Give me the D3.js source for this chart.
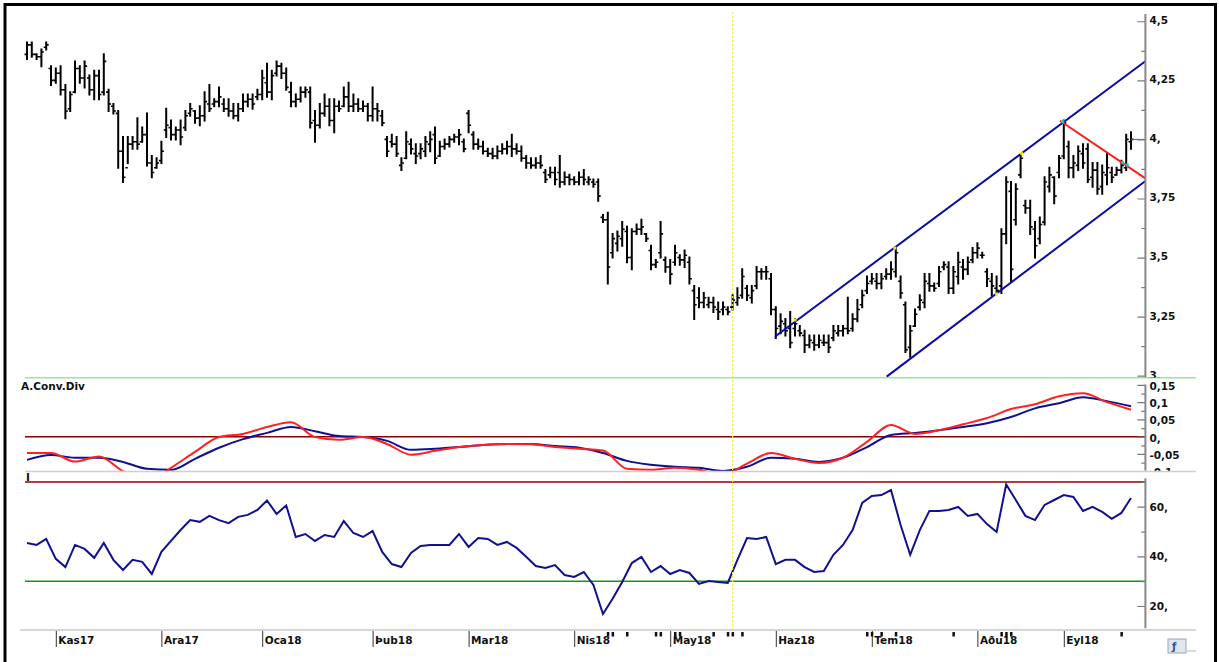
<!DOCTYPE html>
<html>
<head>
<meta charset="utf-8">
<script src="https://cdn.jsdelivr.net/npm/d3@7"></script>
<style>
  body { margin: 0; background: #fff; }
  svg { display: block; font-family: "DejaVu Sans", Verdana, sans-serif; }
  .lbl { font-family: "DejaVu Sans", Verdana, sans-serif; font-size: 10.5px; font-weight: bold; fill: #111; }
</style>
</head>
<body>
<svg id="chart" width="1219" height="662"></svg>
<script>
// daily OHLC, one entry per trading day (Oct 2017 - Sep 2018)
const highs = [4.41,4.41,4.36,4.38,4.41,4.31,4.30,4.31,4.23,4.20, 4.33,4.31,4.33,4.27,4.29,4.29,4.36,4.21,4.15,4.12,
  4.01,4.01,4.01,4.09,4.05,4.11,3.93,3.92,3.99,4.13, 4.08,4.05,4.08,4.12,4.15,4.12,4.14,4.20,4.23,4.17,
  4.22,4.17,4.17,4.15,4.15,4.19,4.19,4.19,4.21,4.29, 4.32,4.29,4.33,4.32,4.30,4.24,4.19,4.22,4.22,4.22,
  4.12,4.15,4.19,4.17,4.17,4.16,4.22,4.24,4.19,4.17, 4.16,4.15,4.22,4.15,4.12,4.01,4.02,4.01,3.92,4.03,
  4.00,3.98,3.98,4.01,4.03,4.05,3.99,4.00,4.01,4.02, 4.04,4.00,4.12,4.03,4.00,3.99,3.96,3.96,3.97,3.98,
  3.99,4.02,3.98,3.97,3.93,3.92,3.92,3.93,3.87,3.88, 3.88,3.93,3.86,3.85,3.84,3.86,3.87,3.84,3.83,3.83,
  3.68,3.69,3.60,3.61,3.65,3.63,3.62,3.64,3.66,3.60, 3.55,3.49,3.65,3.50,3.49,3.55,3.51,3.53,3.50,3.38,
  3.37,3.35,3.33,3.33,3.31,3.31,3.29,3.34,3.37,3.45, 3.38,3.38,3.46,3.45,3.46,3.43,3.29,3.26,3.24,3.27,
  3.24,3.21,3.19,3.17,3.17,3.17,3.17,3.17,3.21,3.21, 3.21,3.33,3.26,3.32,3.36,3.42,3.43,3.43,3.43,3.45,
  3.48,3.54,3.42,3.31,3.21,3.28,3.34,3.43,3.43,3.39, 3.46,3.48,3.48,3.46,3.52,3.49,3.50,3.54,3.56,3.52,
  3.45,3.43,3.42,3.62,3.84,3.82,3.81,3.93,3.74,3.74, 3.65,3.67,3.84,3.88,3.84,3.93,4.08,3.99,3.93,3.97,
  3.98,3.98,3.90,3.90,3.89,3.94,3.88,3.88,3.91,4.02, 4.03]
const lows = [4.34,4.35,4.34,4.31,4.38,4.23,4.24,4.19,4.09,4.12, 4.20,4.24,4.22,4.19,4.17,4.17,4.19,4.12,4.11,3.88,
  3.82,3.90,3.96,3.96,3.99,3.89,3.84,3.88,3.90,4.01, 4.00,4.00,3.98,4.04,4.10,4.07,4.06,4.08,4.12,4.14,
  4.14,4.12,4.10,4.09,4.08,4.12,4.14,4.13,4.17,4.17, 4.18,4.17,4.27,4.26,4.21,4.14,4.14,4.16,4.18,4.05,
  3.99,4.05,4.10,4.06,4.03,4.12,4.14,4.12,4.12,4.12, 4.12,4.08,4.08,4.08,4.06,3.93,3.97,3.93,3.87,3.92,
  3.94,3.90,3.92,3.93,3.95,3.90,3.93,3.96,3.97,3.99, 3.98,3.95,4.03,3.96,3.96,3.94,3.93,3.92,3.92,3.94,
  3.94,3.93,3.94,3.91,3.88,3.88,3.88,3.88,3.82,3.84, 3.81,3.80,3.81,3.81,3.81,3.81,3.81,3.81,3.80,3.74,
  3.65,3.39,3.50,3.53,3.55,3.48,3.45,3.60,3.60,3.57, 3.45,3.46,3.50,3.44,3.39,3.47,3.47,3.46,3.39,3.24,
  3.29,3.29,3.29,3.27,3.24,3.26,3.26,3.28,3.30,3.33, 3.32,3.31,3.37,3.41,3.41,3.26,3.16,3.18,3.17,3.12,
  3.17,3.17,3.10,3.12,3.11,3.12,3.13,3.10,3.15,3.17, 3.17,3.18,3.19,3.23,3.29,3.35,3.39,3.37,3.37,3.41,
  3.41,3.42,3.33,3.10,3.08,3.21,3.28,3.29,3.36,3.36, 3.38,3.45,3.35,3.35,3.39,3.41,3.43,3.48,3.50,3.50,
  3.38,3.34,3.35,3.35,3.56,3.40,3.64,3.84,3.69,3.60, 3.50,3.56,3.64,3.78,3.73,3.84,3.92,3.84,3.84,3.87,
  3.88,3.82,3.80,3.77,3.77,3.81,3.82,3.85,3.86,3.87, 3.96]
const opens = [4.36,4.40,4.36,4.35,4.39,4.30,4.25,4.28,4.21,4.13, 4.20,4.30,4.26,4.26,4.21,4.27,4.20,4.20,4.14,4.11,
  3.95,3.88,3.98,3.99,3.99,4.02,3.90,3.88,3.91,4.04, 4.05,4.02,4.04,4.05,4.11,4.12,4.09,4.10,4.15,4.15,
  4.16,4.15,4.13,4.12,4.10,4.13,4.16,4.17,4.18,4.19, 4.24,4.20,4.28,4.31,4.28,4.20,4.16,4.17,4.20,4.20,
  4.08,4.06,4.11,4.14,4.08,4.14,4.14,4.18,4.14,4.15, 4.13,4.14,4.10,4.13,4.10,4.00,3.99,3.98,3.89,3.92,
  3.98,3.94,3.94,3.95,3.98,4.02,3.93,3.97,3.98,4.00, 4.01,3.99,4.11,4.02,3.98,3.97,3.95,3.94,3.93,3.95,
  3.96,3.97,3.96,3.95,3.92,3.90,3.89,3.90,3.86,3.85, 3.86,3.86,3.82,3.84,3.83,3.82,3.84,3.82,3.82,3.82,
  3.67,3.66,3.52,3.56,3.58,3.61,3.50,3.61,3.62,3.60, 3.53,3.47,3.52,3.49,3.46,3.48,3.50,3.49,3.48,3.36,
  3.33,3.31,3.30,3.31,3.28,3.28,3.28,3.29,3.31,3.34, 3.37,3.33,3.38,3.44,3.44,3.41,3.28,3.21,3.22,3.20,
  3.20,3.19,3.17,3.13,3.14,3.13,3.14,3.14,3.16,3.18, 3.19,3.20,3.20,3.24,3.30,3.36,3.40,3.40,3.39,3.42,
  3.43,3.44,3.40,3.30,3.12,3.21,3.29,3.31,3.39,3.38, 3.39,3.46,3.46,3.37,3.42,3.46,3.45,3.49,3.52,3.51,
  3.44,3.40,3.37,3.38,3.60,3.78,3.66,3.85,3.72,3.71, 3.62,3.58,3.65,3.80,3.84,3.86,3.93,3.97,3.88,3.89,
  3.94,3.96,3.84,3.87,3.80,3.85,3.86,3.85,3.87,3.88, 3.99]
const closes = [4.40,4.36,4.35,4.37,4.40,4.25,4.28,4.21,4.12,4.19, 4.30,4.26,4.31,4.21,4.27,4.19,4.33,4.15,4.12,3.95,
  3.84,3.98,3.99,3.98,4.02,3.90,3.86,3.90,3.95,4.06, 4.02,4.04,4.01,4.10,4.13,4.09,4.10,4.16,4.13,4.16,
  4.18,4.13,4.12,4.10,4.13,4.16,4.17,4.15,4.19,4.26, 4.20,4.27,4.31,4.28,4.22,4.16,4.17,4.20,4.21,4.07,
  4.06,4.11,4.14,4.08,4.14,4.13,4.18,4.14,4.15,4.13, 4.14,4.10,4.13,4.12,4.07,3.95,3.98,3.94,3.90,3.99,
  3.96,3.93,3.96,3.99,4.00,3.92,3.97,3.98,4.00,4.01, 4.02,3.96,4.06,3.98,3.97,3.95,3.94,3.93,3.95,3.96,
  3.97,3.96,3.95,3.92,3.90,3.89,3.90,3.89,3.83,3.86, 3.83,3.82,3.84,3.83,3.82,3.84,3.83,3.83,3.81,3.76,
  3.66,3.46,3.58,3.59,3.62,3.50,3.61,3.62,3.63,3.58, 3.47,3.48,3.60,3.46,3.43,3.52,3.49,3.51,3.41,3.30,
  3.31,3.33,3.31,3.29,3.27,3.29,3.27,3.32,3.33,3.42, 3.34,3.36,3.44,3.44,3.44,3.28,3.20,3.23,3.19,3.14,
  3.22,3.18,3.13,3.15,3.13,3.15,3.14,3.12,3.19,3.19, 3.20,3.19,3.24,3.28,3.34,3.39,3.41,3.39,3.41,3.43,
  3.45,3.52,3.35,3.11,3.19,3.26,3.32,3.40,3.38,3.37, 3.44,3.47,3.37,3.44,3.48,3.45,3.48,3.52,3.54,3.51,
  3.41,3.38,3.36,3.60,3.82,3.45,3.79,3.92,3.71,3.63, 3.55,3.64,3.82,3.85,3.76,3.92,4.07,3.88,3.90,3.95,
  3.90,3.83,3.87,3.79,3.86,3.88,3.84,3.87,3.89,4.00, 4.00]

// MACD panel, read every 5 bars
const macdStep = 5
const macdLine = [-0.047,-0.047,-0.072,-0.057,-0.10,-0.13,-0.09,-0.044,-0.001,0.008,
  0.028,0.042,-0.001,-0.009,-0.001,-0.021,-0.052,-0.041,-0.030,-0.024,
  -0.021,-0.022,-0.030,-0.035,-0.040,-0.093,-0.096,-0.090,-0.096,-0.11,
  -0.078,-0.047,-0.064,-0.076,-0.061,-0.015,0.034,0.008,0.019,0.036,
  0.054,0.080,0.094,0.117,0.126,0.100,0.078]
const signalLine = [-0.067,-0.053,-0.061,-0.061,-0.073,-0.093,-0.096,-0.064,-0.032,-0.007,
  0.011,0.028,0.016,0.002,-0.001,-0.012,-0.038,-0.035,-0.030,-0.024,
  -0.021,-0.021,-0.027,-0.032,-0.047,-0.070,-0.081,-0.087,-0.090,-0.099,
  -0.087,-0.061,-0.064,-0.073,-0.061,-0.030,0.005,0.011,0.019,0.028,
  0.039,0.057,0.082,0.097,0.114,0.103,0.088]

// RSI, read every 2 bars
const rsiStep = 2
const rsi = [45.4,44.6,47.0,39.0,35.7,44.6,43.0,39.4,45.4,38.6, 34.5,38.6,37.8,32.9,41.8,46.2,50.6,54.6,53.9,56.3,
  54.6,53.4,55.9,56.7,58.7,62.5,57.1,60.5,47.8,49.0, 46.2,48.6,47.8,54.2,49.4,47.8,50.2,41.8,36.9,35.7,
  41.4,44.2,44.6,44.6,44.6,49.0,43.8,47.4,47.0,44.6, 45.8,43.4,39.8,36.1,35.3,36.5,32.5,31.7,33.7,28.5,
  16.8,22.9,29.7,37.3,39.8,33.7,36.1,32.9,34.5,33.3, 28.9,30.1,29.7,29.3,38.6,47.4,47.0,47.8,36.9,38.6,
  38.6,35.7,33.7,34.1,40.6,44.6,50.6,61.5,64.3,64.7, 66.7,52.6,40.6,50.6,58.3,58.3,58.7,59.9,56.3,57.1,
  53.0,49.8,69.0,62.7,56.3,54.6,60.7,62.7,64.7,63.9, 58.3,59.9,57.9,55.1,57.5,63.5]

// axis labels and ticks
const monthLabels = ["Kas17","Ara17","Oca18","Þub18","Mar18","Nis18","May18","Haz18","Tem18","Aðu18","Eyl18"]
const monthStart = [6, 28, 49, 72, 92, 114, 134, 156, 176, 198, 216]
const priceTicks = [3, 3.25, 3.5, 3.75, 4, 4.25, 4.5]
const priceMinor = [3.125, 3.375, 3.625, 3.875, 4.125, 4.375]
const macdTicks = [-0.1, -0.05, 0, 0.05, 0.1, 0.15]
const macdMinor = [-0.075, -0.025, 0.025, 0.075, 0.125]
const rsiTicks = [20, 40, 60]
const rsiMinor = [30, 50, 70]
const eventBars = [121,122,125,131,132,135,136,143,146,147,149,175,176,178,181,193,203,204,205,228]
const markerBar = 147

// drawn trend lines: [bar, price]
const channelUpper = [[155.8, 3.165], [233, 4.331]]
const channelLower = [[179.1, 2.996], [233, 3.824]]
const resistance = [[215.2, 4.079], [233, 3.835]]
const anchorsYellow = [[160, 3.236], [180.8, 3.540], [207.2, 3.941], [202, 3.346]]
const anchorsCyan = [[215.8, 4.075], [228.3, 3.901], [229.2, 3.892]]

const svg = d3.select("#chart")
const fmt = v => Number.isInteger(v) ? v + "," : String(v).replace(".", ",")

// x scale on bar index
const x = d3.scaleLinear().domain([0, closes.length - 1]).range([27, 1131])
const axisX = x(233)
const left = 20

// y scales, one per panel
const y = d3.scaleLinear().domain([3, 4.5]).range([375.7, 21.25])
const yMacd = d3.scaleLinear().domain([0, 0.15]).range([436.7, 384.9])
const yRsi = d3.scaleLinear().domain([20, 60]).range([606, 506.7])

const panels = [
  {id: "main", top: 8, bottom: 377.5, shift: -1},
  {id: "macd", top: 378.5, bottom: 470.8, shift: 1},
  {id: "rsi", top: 472.2, bottom: 628.5, shift: 0}
]
const defs = svg.append("defs")
panels.forEach(p => {
  defs.append("clipPath").attr("id", "clip-" + p.id)
    .append("rect").attr("x", left).attr("y", p.top).attr("width", axisX - left).attr("height", p.bottom - p.top)
  defs.append("clipPath").attr("id", "aclip-" + p.id)
    .append("rect").attr("x", axisX - 12).attr("y", p.top).attr("width", 1219 - axisX + 12).attr("height", p.bottom - p.top)
})

// outer frame
svg.append("rect")
  .attr("x", 5).attr("y", 4.5).attr("width", 1210.5).attr("height", 700)
  .attr("fill", "none").attr("stroke", "#000").attr("stroke-width", 3)

// separators
svg.append("line").attr("x1", 25).attr("x2", 1196).attr("y1", 377.7).attr("y2", 377.7)
  .attr("stroke", "#9ee39e").attr("stroke-width", 1.5)
svg.append("line").attr("x1", 25).attr("x2", 1196).attr("y1", 471.5).attr("y2", 471.5)
  .attr("stroke", "#cfcfcf").attr("stroke-width", 1.5)
svg.append("line").attr("x1", 20).attr("x2", 1196).attr("y1", 630).attr("y2", 630)
  .attr("stroke", "#d6d6d6").attr("stroke-width", 2)

// ---- main price panel
const main = svg.append("g").attr("clip-path", "url(#clip-main)")

const bars = main.selectAll(".bar")
  .data(closes.map((c, i) => ({i, o: opens[i], h: highs[i], l: lows[i], c})))
  .enter().append("g")
bars.append("line")
  .attr("x1", d => x(d.i)).attr("x2", d => x(d.i))
  .attr("y1", d => y(d.h) - 1).attr("y2", d => y(d.l) + 1)
  .attr("stroke", "#000").attr("stroke-width", 2)
bars.append("line")
  .attr("x1", d => x(d.i) - 2.5).attr("x2", d => x(d.i))
  .attr("y1", d => y(d.o)).attr("y2", d => y(d.o))
  .attr("stroke", "#000").attr("stroke-width", 1.6)
bars.append("line")
  .attr("x1", d => x(d.i)).attr("x2", d => x(d.i) + 2.5)
  .attr("y1", d => y(d.c)).attr("y2", d => y(d.c))
  .attr("stroke", "#000").attr("stroke-width", 1.6)

const tline = d3.line().x(d => x(d[0])).y(d => y(d[1]))
main.append("path").attr("d", tline(channelUpper)).attr("fill", "none").attr("stroke", "#0a0aa8").attr("stroke-width", 2)
main.append("path").attr("d", tline(channelLower)).attr("fill", "none").attr("stroke", "#0a0aa8").attr("stroke-width", 2)
main.append("path").attr("d", tline(resistance)).attr("fill", "none").attr("stroke", "#ff1a1a").attr("stroke-width", 2)

main.selectAll(".ay").data(anchorsYellow).enter().append("rect")
  .attr("x", d => x(d[0]) - 1.5).attr("y", d => y(d[1]) - 1.5).attr("width", 3).attr("height", 3)
  .attr("fill", "#f5e600")
main.selectAll(".ac").data(anchorsCyan).enter().append("rect")
  .attr("x", d => x(d[0]) - 1.5).attr("y", d => y(d[1]) - 1.5).attr("width", 3).attr("height", 3)
  .attr("fill", "#19c7c7")

// last close marker
svg.append("line")
  .attr("x1", x(closes.length - 1)).attr("x2", axisX)
  .attr("y1", y(closes[closes.length - 1])).attr("y2", y(closes[closes.length - 1]))
  .attr("stroke", "#4a4ad0").attr("stroke-width", 1)

// ---- MACD panel
const macdG = svg.append("g").attr("clip-path", "url(#clip-macd)")
macdG.append("line").attr("x1", 25).attr("x2", axisX).attr("y1", yMacd(0)).attr("y2", yMacd(0))
  .attr("stroke", "#8b0000").attr("stroke-width", 1.5)
const mline = d3.line().x((d, i) => x(i * macdStep)).y(d => yMacd(d)).curve(d3.curveMonotoneX)
macdG.append("path").attr("d", mline(signalLine)).attr("fill", "none").attr("stroke", "#101090").attr("stroke-width", 2)
macdG.append("path").attr("d", mline(macdLine)).attr("fill", "none").attr("stroke", "#ff2020").attr("stroke-width", 2)
macdG.append("text").attr("class", "lbl").attr("x", 21).attr("y", 390).text("A.Conv.Div")

// ---- RSI panel
const rsiG = svg.append("g").attr("clip-path", "url(#clip-rsi)")
rsiG.append("line").attr("x1", 25).attr("x2", axisX).attr("y1", yRsi(70)).attr("y2", yRsi(70))
  .attr("stroke", "#8b0000").attr("stroke-width", 1.5)
rsiG.append("line").attr("x1", 25).attr("x2", axisX).attr("y1", yRsi(30)).attr("y2", yRsi(30))
  .attr("stroke", "#119911").attr("stroke-width", 1.5)
const rline = d3.line().x((d, i) => x(i * rsiStep)).y(d => yRsi(d))
rsiG.append("path").attr("d", rline(rsi)).attr("fill", "none").attr("stroke", "#101090").attr("stroke-width", 2)
rsiG.append("text").attr("class", "lbl").attr("x", 26).attr("y", 481).text("I")

// yellow dotted marker line
svg.append("line")
  .attr("x1", x(markerBar)).attr("x2", x(markerBar)).attr("y1", 12).attr("y2", 630)
  .attr("stroke", "#f7ec3a").attr("stroke-width", 1.2).attr("stroke-dasharray", "2,2")

// ---- right axes
function rightAxis(scale, major, minor, panel) {
  const outer = svg.append("g").attr("clip-path", "url(#aclip-" + panel.id + ")")
  const g = outer.append("g").attr("transform", "translate(" + axisX + ",0)")
  g.append("g").call(d3.axisRight(scale).tickValues(major).tickSize(-8).tickPadding(4).tickFormat(fmt))
  g.append("g").call(d3.axisRight(scale).tickValues(minor).tickSize(-4).tickFormat(""))
  g.selectAll(".domain").remove()
  g.selectAll("line").attr("stroke", "#777").attr("stroke-width", 1.2)
  g.selectAll("text").attr("class", "lbl").attr("y", panel.shift)
  g.append("line").attr("x1", 0).attr("x2", 0).attr("y1", panel.top + 6).attr("y2", panel.bottom)
    .attr("stroke", "#888").attr("stroke-width", 2)
}
panels.forEach((p, k) => rightAxis([y, yMacd, yRsi][k],
  [priceTicks, macdTicks, rsiTicks][k], [priceMinor, macdMinor, rsiMinor][k], p))

// ---- bottom month axis
const xAxis = svg.append("g").attr("transform", "translate(0,631)")
  .call(d3.axisBottom(x).tickValues(monthStart).tickSize(16).tickPadding(0)
    .tickFormat((d, i) => monthLabels[i]))
xAxis.select(".domain").remove()
xAxis.selectAll("line").attr("stroke", "#333").attr("stroke-width", 1)
xAxis.selectAll("text").attr("class", "lbl").attr("text-anchor", "start")
  .attr("x", 2).attr("y", 6).attr("dy", "0.71em")

// event markers under axis
svg.selectAll(".ev").data(eventBars).enter().append("rect")
  .attr("x", d => x(d) - 1).attr("y", 632).attr("width", 2.5).attr("height", 4.5)
  .attr("fill", "#111")

// small button bottom right
svg.append("rect").attr("x", 1168).attr("y", 639).attr("width", 18).attr("height", 14)
  .attr("fill", "#dfe6f0").attr("stroke", "#9aa3b5")
svg.append("text").attr("x", 1172).attr("y", 650).attr("font-size", 10).attr("font-weight", "bold")
  .attr("fill", "#2d4f8f").text("ƒ")
svg.append("line").attr("x1", 1186).attr("x2", 1196).attr("y1", 651).attr("y2", 651)
  .attr("stroke", "#ccc").attr("stroke-width", 1.5)
</script>
</body>
</html>
